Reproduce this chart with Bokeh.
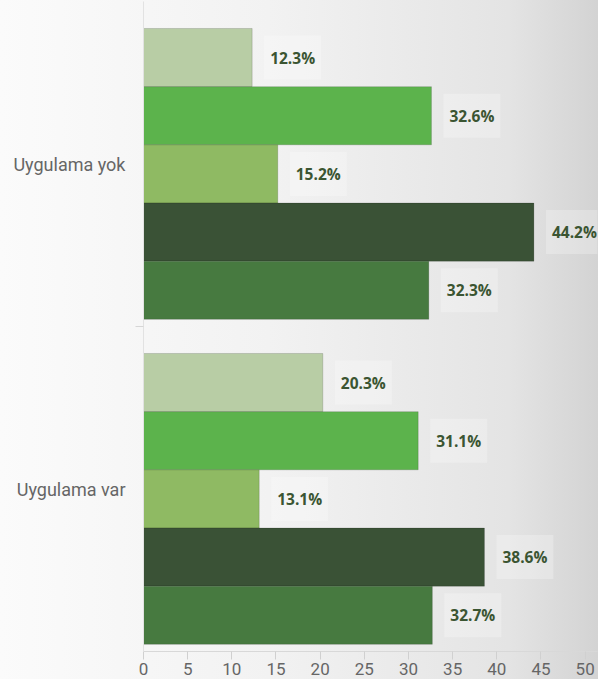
from bokeh.plotting import figure
from bokeh.models import Range1d, FixedTicker, ColumnDataSource
from bokeh.core.properties import value
from bokeh.embed import file_html
from bokeh.resources import INLINE

categories = ["Uygulama yok", "Uygulama var"]
series_colors = ["#b8cda5", "#5cb34c", "#8fba63", "#3a5236", "#477a40"]
values_yok = [12.3, 32.6, 15.2, 44.2, 32.3]
values_var = [20.3, 31.1, 13.1, 38.6, 32.7]
x_ticks = [0, 5, 10, 15, 20, 25, 30, 35, 40, 45, 50]

group_values = [values_yok, values_var]
bar_h = 0.179
offset = 0.083

ys, rights, colors, labels = [], [], [], []
for gi, vals in enumerate(group_values):
    for si, v in enumerate(vals):
        ys.append(gi + offset + bar_h * (si + 0.5))
        rights.append(v)
        colors.append(series_colors[si])
        labels.append(f"{v:.1f}%")
src = ColumnDataSource(dict(y=ys, right=rights, color=colors, label=labels))

p = figure(width=598, height=679, output_backend="svg", toolbar_location=None,
           x_range=Range1d(0, 51.4), y_range=Range1d(2, 0),
           min_border_left=143, min_border_right=1, min_border_top=1,
           min_border_bottom=28)
p.styles = {"background": "linear-gradient(to right, #fbfbfb 0%, #f2f2f2 45%, #e4e4e4 85%, #d3d3d3 100%)"}
p.background_fill_color = None
p.border_fill_color = None
p.outline_line_color = None
p.grid.visible = False

p.hbar(y="y", left=0, right="right", height=bar_h, color="color", source=src,
       line_color="#000000", line_alpha=0.15, line_width=1)

p.text(x="right", y="y", text="label", source=src, x_offset=12,
       text_align="left", text_baseline="middle",
       text_font=value("Open Sans"), text_font_style="bold", text_font_size="15.5px",
       text_color="#3b5532",
       background_fill_color="#ffffff", background_fill_alpha=0.25,
       padding=(6, 11))

xa = p.xaxis[0]
xa.ticker = FixedTicker(ticks=x_ticks)
xa.axis_line_color = "#d8d8d8"
xa.major_tick_line_color = "#d0d0d0"
xa.major_tick_out = 8
xa.major_tick_in = 0
xa.minor_tick_line_color = None
xa.major_label_text_font = "Roboto"
xa.major_label_text_font_size = "17px"
xa.major_label_text_color = "#666666"
xa.major_label_standoff = 3

ya = p.yaxis[0]
ya.ticker = FixedTicker(ticks=[0.5, 1.5], minor_ticks=[1])
ya.major_label_overrides = {0.5: categories[0], 1.5: categories[1]}
ya.axis_line_color = "#e2e2e2"
ya.major_tick_line_color = None
ya.major_tick_out = 0
ya.major_tick_in = 0
ya.minor_tick_line_color = "#d6d6d6"
ya.minor_tick_out = 8
ya.minor_tick_in = 0
ya.major_label_text_font = "Roboto"
ya.major_label_text_font_size = "18px"
ya.major_label_text_color = "#666666"
ya.major_label_standoff = 10

open("out.html", "w").write(file_html(p, INLINE))
